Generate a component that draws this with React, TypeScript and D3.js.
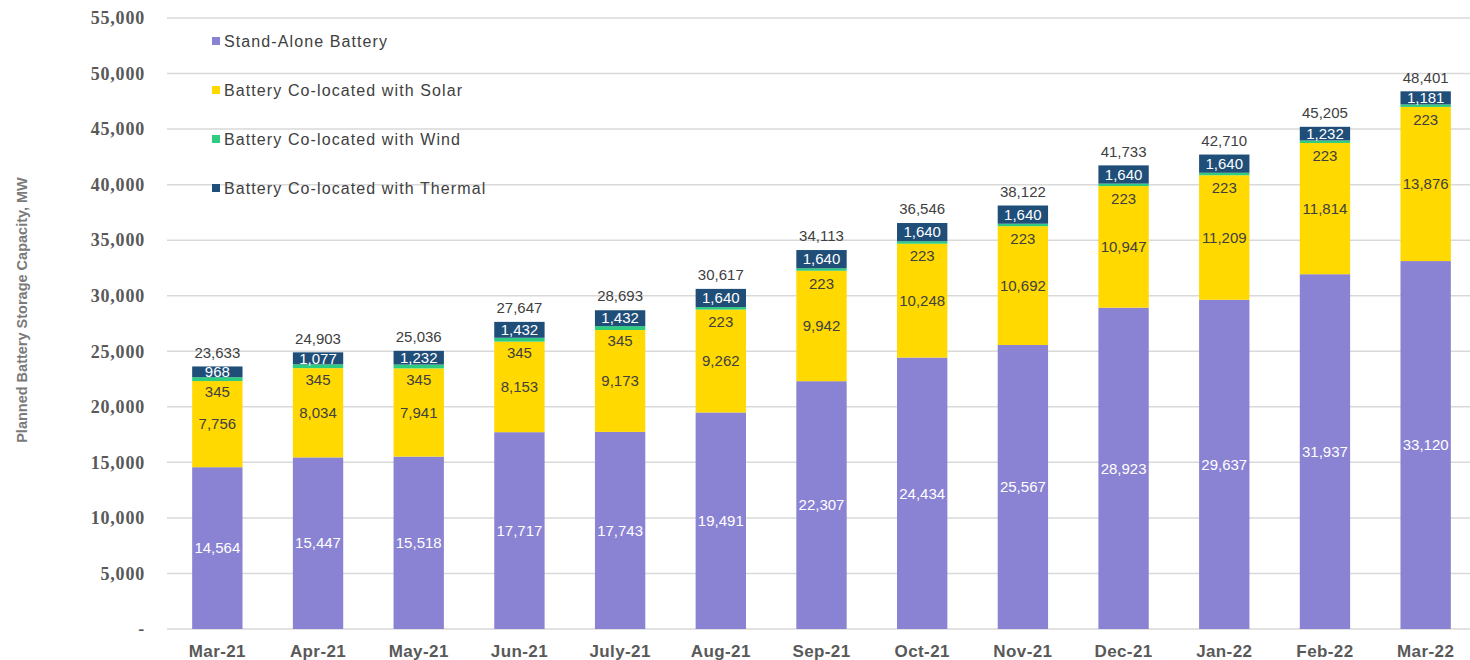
import React from "react";
import * as d3 from "d3";

const months = ["Mar-21", "Apr-21", "May-21", "Jun-21", "July-21", "Aug-21", "Sep-21", "Oct-21", "Nov-21", "Dec-21", "Jan-22", "Feb-22", "Mar-22"];
const standAlone = [14564, 15447, 15518, 17717, 17743, 19491, 22307, 24434, 25567, 28923, 29637, 31937, 33120];
const solar = [7756, 8034, 7941, 8153, 9173, 9262, 9942, 10248, 10692, 10947, 11209, 11814, 13876];
const wind = [345, 345, 345, 345, 345, 223, 223, 223, 223, 223, 223, 223, 223];
const thermal = [968, 1077, 1232, 1432, 1432, 1640, 1640, 1640, 1640, 1640, 1640, 1232, 1181];
const totals = [23633, 24903, 25036, 27647, 28693, 30617, 34113, 36546, 38122, 41733, 42710, 45205, 48401];
const yTicks = [0, 5000, 10000, 15000, 20000, 25000, 30000, 35000, 40000, 45000, 50000, 55000];

const seriesKeys = ["standAlone", "solar", "wind", "thermal"];
const seriesNames = ["Stand-Alone Battery", "Battery Co-located with Solar", "Battery Co-located with Wind", "Battery Co-located with Thermal"];
const colors = ["#8a82d2", "#ffd900", "#2ecc80", "#1f4e79"];
const labelColors = ["#ffffff", "#404040", "#404040", "#ffffff"];

const W = 1470;
const H = 660;

export default function App() {
  const rows = months.map((m, i) => ({
    month: m,
    standAlone: standAlone[i],
    solar: solar[i],
    wind: wind[i],
    thermal: thermal[i],
  }));

  const x = d3.scaleBand().domain(months).range([167, 1476]).paddingInner(0.5).paddingOuter(0.25);
  const y = d3.scaleLinear().domain([0, 55000]).range([629, 18]);
  const stacked = d3.stack<any>().keys(seriesKeys)(rows);
  const fmt = d3.format(",");

  return (
    <svg width={W} height={H} style={{ position: "absolute", left: 0, top: 0, background: "#fff" }}>
      {/* gridlines */}
      {yTicks.map((t) => (
        <line key={t} x1={167} x2={W} y1={y(t)} y2={y(t)} stroke="#d9d9d9" strokeWidth={1.5} />
      ))}
      {/* y tick labels */}
      {yTicks.map((t) => (
        <text key={"yt" + t} x={145} y={y(t)} dy="0.35em" textAnchor="end" letterSpacing={0.8}
          fontFamily="Liberation Serif" fontWeight="bold" fontSize={18} fill="#595959">
          {t === 0 ? "-" : fmt(t)}
        </text>
      ))}
      <text transform={`translate(27,310) rotate(-90)`} textAnchor="middle"
        fontFamily="Liberation Sans" fontWeight="bold" fontSize={14.5} fill="#7a7a7a">
        Planned Battery Storage Capacity, MW
      </text>

      {/* bars */}
      {stacked.map((s, si) => (
        <g key={s.key} fill={colors[si]}>
          {s.map((d, i) => (
            <rect key={i} x={x(months[i])} width={x.bandwidth()} y={y(d[1])} height={y(d[0]) - y(d[1])} />
          ))}
        </g>
      ))}

      {/* segment labels */}
      {stacked.map((s, si) => (
        <g key={"l" + s.key} fontFamily="Liberation Sans" fontSize={15} fill={labelColors[si]} textAnchor="middle">
          {s.map((d, i) => {
            const cx = (x(months[i]) as number) + x.bandwidth() / 2;
            let cy = (y(d[0]) + y(d[1])) / 2;
            if (s.key === "wind") cy = y(d[1]) + 15;
            return (
              <text key={i} x={cx} y={cy} dy="0.35em">
                {fmt(d[1] - d[0])}
              </text>
            );
          })}
        </g>
      ))}

      {/* totals */}
      {totals.map((t, i) => {
        const top = stacked[stacked.length - 1][i][1];
        return (
          <text key={"tot" + i} x={(x(months[i]) as number) + x.bandwidth() / 2} y={y(top) - 14} dy="0.35em"
            textAnchor="middle" fontFamily="Liberation Sans" fontSize={15} fill="#404040">
            {fmt(t)}
          </text>
        );
      })}

      {/* x labels */}
      {months.map((m) => (
        <text key={"x" + m} x={(x(m) as number) + x.bandwidth() / 2} y={651} dy="0.35em" textAnchor="middle"
          letterSpacing={0.4} fontFamily="Liberation Sans" fontWeight="bold" fontSize={17} fill="#595959">
          {m}
        </text>
      ))}

      {/* legend */}
      {seriesNames.map((n, i) => (
        <g key={"lg" + i} transform={`translate(212,${41 + i * 49})`}>
          <rect x={0} y={-4} width={8} height={8} fill={colors[i]} />
          <text x={12} y={0} dy="0.35em" letterSpacing={1.1} fontFamily="Liberation Sans" fontSize={16} fill="#404040">
            {n}
          </text>
        </g>
      ))}
    </svg>
  );
}
